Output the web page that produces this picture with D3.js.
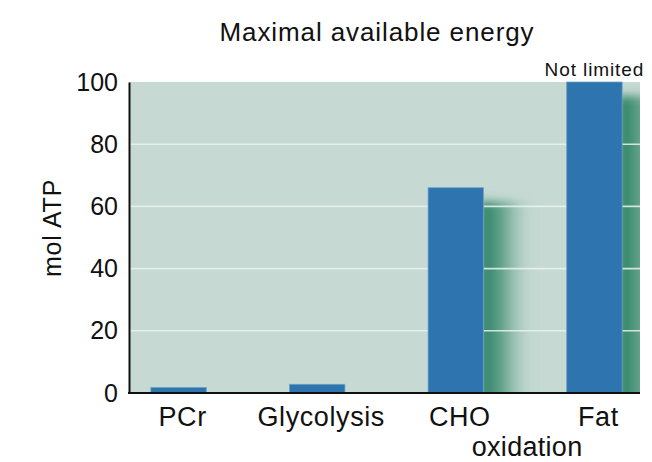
<!doctype html>
<html>
  <head>
    <title>Maximal available energy</title>
    <script src="https://cdn.jsdelivr.net/npm/d3@7"></script>
    <style>
      body { margin: 0; background: #fff; }
      text { font-family: "Liberation Sans", Arial, Helvetica, sans-serif; fill: #111; }
    </style>
  </head>
  <body>
  <script>

// chart values
const categories = ["PCr", "Glycolysis", "CHO", "Fat"];
const values = [1.8, 2.8, 66, 100];
const yTicks = [0, 20, 40, 60, 80, 100];
const title = "Maximal available energy";
const yLabel = "mol ATP";
const subLabel = "oxidation";   // second line under CHO / Fat
const noteLabel = "Not limited"; // above the Fat bar

const w = 652;
const h = 462;
const plotL = 129, plotR = 640, plotT = 82, plotB = 393;

const svg = d3.select("body")
  .append("svg")
  .attr("width", w)
  .attr("height", h);

const defs = svg.append("defs");

const grad = defs.append("linearGradient")
  .attr("id", "shade")
  .attr("x1", "0").attr("x2", "1").attr("y1", "0").attr("y2", "0");
grad.append("stop").attr("offset", "0").attr("stop-color", "#1f7a58").attr("stop-opacity", 1);
grad.append("stop").attr("offset", "0.4").attr("stop-color", "#3a8d6f").attr("stop-opacity", 0.7);
grad.append("stop").attr("offset", "1").attr("stop-color", "#c6d9d3").attr("stop-opacity", 0);

defs.append("filter")
  .attr("id", "blur")
  .attr("x", "-50%").attr("y", "-20%").attr("width", "200%").attr("height", "140%")
  .append("feGaussianBlur")
  .attr("stdDeviation", 5);

defs.append("clipPath")
  .attr("id", "plot")
  .append("rect")
  .attr("x", plotL).attr("y", plotT)
  .attr("width", plotR - plotL).attr("height", plotB - plotT);

// scales
const y = d3.scaleLinear()
  .domain([0, 100])
  .range([plotB, plotT]);

const x = d3.scaleBand()
  .domain(categories)
  .range([137, 636])
  .paddingInner(0.6)
  .paddingOuter(0.1);

// plot background
svg.append("rect")
  .attr("x", plotL).attr("y", plotT)
  .attr("width", plotR - plotL).attr("height", plotB - plotT)
  .attr("fill", "#c6d9d3");

// blurred green shadows to the right of each bar
svg.append("g")
  .attr("clip-path", "url(#plot)")
  .selectAll("rect")
  .data(values)
  .enter()
  .append("rect")
  .attr("x", (d, i) => x(categories[i]) + x.bandwidth() - 4)
  .attr("y", d => y(d) + 14)
  .attr("width", 58)
  .attr("height", d => Math.max(0, y(0) - y(d) - 14) + 12)
  .attr("fill", "url(#shade)")
  .attr("filter", "url(#blur)");

// grid lines
svg.append("g")
  .selectAll("line")
  .data(yTicks.filter(t => t > 0 && t < 100))
  .enter()
  .append("line")
  .attr("x1", plotL).attr("x2", plotR)
  .attr("y1", d => y(d)).attr("y2", d => y(d))
  .attr("stroke", "#e9f3f0")
  .attr("stroke-opacity", 0.85)
  .attr("stroke-width", 1.6);

// bars
svg.append("g")
  .selectAll("rect")
  .data(values)
  .enter()
  .append("rect")
  .attr("x", (d, i) => x(categories[i]))
  .attr("y", d => y(d))
  .attr("width", x.bandwidth())
  .attr("height", d => y(0) - y(d))
  .attr("fill", "#2e74af")
  .attr("stroke", "#6aa3c6")
  .attr("stroke-width", 0.8);

// y axis
const yAxis = svg.append("g")
  .attr("transform", `translate(${plotL},0)`)
  .call(d3.axisLeft(y).tickValues(yTicks).tickSize(0).tickSizeOuter(0).tickPadding(11));
yAxis.select(".domain").attr("stroke", "#111").attr("stroke-width", 2);
yAxis.selectAll("text")
  .style("font-size", "25px")
  .style("font-family", "Liberation Sans, Arial, sans-serif")
  .attr("fill", "#111");

// baseline
svg.append("line")
  .attr("x1", plotL - 1).attr("x2", plotR)
  .attr("y1", y(0)).attr("y2", y(0))
  .attr("stroke", "#111")
  .attr("stroke-width", 2);

// x axis labels
const xAxis = svg.append("g")
  .attr("transform", `translate(0,${plotB})`)
  .call(d3.axisBottom(x).tickSize(0).tickPadding(14));
xAxis.select(".domain").remove();
xAxis.selectAll("text")
  .attr("dx", "4")
  .style("font-size", "27px")
  .style("letter-spacing", "0.6px")
  .style("font-family", "Liberation Sans, Arial, sans-serif")
  .attr("fill", "#111");

svg.append("text")
  .attr("x", (x("CHO") + x("Fat") + x.bandwidth()) / 2 + 2)
  .attr("y", 456)
  .attr("text-anchor", "middle")
  .style("font-size", "27px")
  .style("letter-spacing", "0.3px")
  .text(subLabel);

// note above the Fat bar
svg.append("text")
  .attr("x", x("Fat") + x.bandwidth() / 2)
  .attr("y", y(values[3]) - 6)
  .attr("text-anchor", "middle")
  .style("font-size", "19px")
  .style("letter-spacing", "0.9px")
  .attr("fill", "#333")
  .text(noteLabel);

// title
svg.append("text")
  .attr("x", 377)
  .attr("y", 41)
  .attr("text-anchor", "middle")
  .style("font-size", "26px")
  .style("letter-spacing", "0.9px")
  .text(title);

// y label
svg.append("text")
  .attr("transform", "translate(61,228) rotate(-90)")
  .attr("text-anchor", "middle")
  .style("font-size", "25px")
  .style("letter-spacing", "0.8px")
  .text(yLabel);

  </script>
</body>
</html>
